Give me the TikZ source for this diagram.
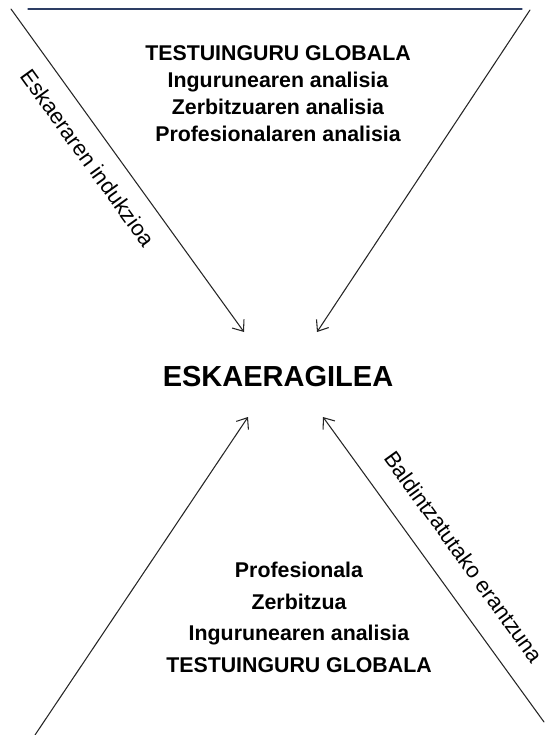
\documentclass[tikz,border=0pt]{standalone}
\usepackage{fontspec}
\setmainfont{Liberation Sans}
\usetikzlibrary{arrows.meta}

\begin{document}
\begin{tikzpicture}[x=0.75pt,y=-0.75pt,line cap=round]
  % Colors
    \definecolor{toplinecolor}{RGB}{45,62,100}
    \colorlet{arrowcolor}{black!85}

  % Styles
    \tikzstyle{flow}=[draw=arrowcolor,line width=0.8pt,-{Straight Barb[length=7pt,width=11pt]}]
    \tikzstyle{block}=[inner sep=0pt,align=center,font=\bfseries\fontsize{16}{20.25}\selectfont]
    \tikzstyle{sidelabel}=[inner sep=0pt,rotate=-54.2,font=\fontsize{16.5}{20}\selectfont]

  % The graphic
    \useasboundingbox (0,0) rectangle (544,735);

    % end points
    \coordinate (topa) at (28,9);
    \coordinate (topb) at (522,9);
    \coordinate (ltstart) at (11,9);
    \coordinate (lttip) at (244,332);
    \coordinate (rtstart) at (530,10);
    \coordinate (rttip) at (317,332);
    \coordinate (lbstart) at (35,735);
    \coordinate (lbtip) at (248,417);
    \coordinate (rbstart) at (544,722);
    \coordinate (rbtip) at (323,417);

    % texts
    \node[block,anchor=north] (context) at (278,45)
      {TESTUINGURU GLOBALA\\Ingurunearen analisia\\Zerbitzuaren analisia\\Profesionalaren analisia};
    \node[inner sep=0pt,font=\bfseries\fontsize{21.75}{26}\selectfont] (agent) at (278,377) {ESKAERAGILEA};
    \node[block,anchor=north,font=\bfseries\fontsize{16}{23.6}\selectfont] (answer) at (299,562)
      {Profesionala\\Zerbitzua\\Ingurunearen analisia\\TESTUINGURU GLOBALA};

    \node[sidelabel] (induction) at (88,158) {Eskaeraren indukzioa};
    \node[sidelabel] (response) at (464,557) {Baldintzatutako erantzuna};

    % lines
    \draw[draw=toplinecolor,line width=0.8pt] (topa) -- (topb);
    \draw[flow] (ltstart) -- (lttip);
    \draw[flow] (rtstart) -- (rttip);
    \draw[flow] (lbstart) -- (lbtip);
    \draw[flow] (rbstart) -- (rbtip);
\end{tikzpicture}
\end{document}
